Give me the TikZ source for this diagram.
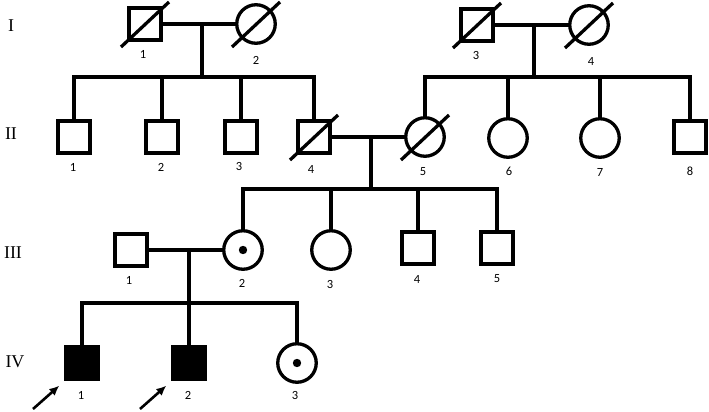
\documentclass[tikz,border=0pt]{standalone}
\usepackage{fontspec}
\setmainfont{Liberation Serif}
\newfontfamily\numfont{Carlito}
\usetikzlibrary{positioning,arrows.meta}

\begin{document}
\begin{tikzpicture}[x=1pt,y=1pt,line width=3.3pt,line cap=rect,
    person/.style={draw, line width=3.3pt, inner sep=0pt},
    male/.style={person, rectangle, minimum size=32pt},
    female/.style={person, circle, minimum size=38.5pt},
    affected/.style={fill=black},
    carrier/.style={path picture={\fill[black] (path picture bounding box.center) circle (4.2pt);}},
    gen/.style={font=\fontsize{18}{18}\selectfont, inner sep=0pt},
    num/.style={font=\numfont\fontsize{12.5}{12.5}\selectfont, inner sep=0pt},
    proband/.style={-{Latex[length=10pt,width=9pt]}, line width=2.6pt, line cap=butt}
]
\useasboundingbox (0,0) rectangle (709,-412);

% Generation labels
\node[gen] (gI) at (11,-26) {I};
\node[gen] (gII) at (11,-134) {II};
\node[gen] (gIII) at (13,-253) {III};
\node[gen] (gIV) at (15,-362) {IV};

% Generation I
\node[male] (I1) at (145,-24) {};
\node[female] (I2) at (256,-24) {};
\node[male] (I3) at (477,-25) {};
\node[female] (I4) at (589,-25) {};
\node[num] (nI1) at (143,-54) {1};
\node[num] (nI2) at (256,-60) {2};
\node[num] (nI3) at (476,-55) {3};
\node[num] (nI4) at (591,-61) {4};

% Generation II
\node[male] (II1) at (74,-137) {};
\node[male] (II2) at (162,-137) {};
\node[male] (II3) at (241,-137) {};
\node[male] (II4) at (314,-137) {};
\node[female] (II5) at (425,-137) {};
\node[female] (II6) at (508,-138) {};
\node[female] (II7) at (600,-138) {};
\node[male] (II8) at (690,-137) {};
\node[num] (nII1) at (73,-167) {1};
\node[num] (nII2) at (161,-167) {2};
\node[num] (nII3) at (239,-166) {3};
\node[num] (nII4) at (311,-169) {4};
\node[num] (nII5) at (423,-172) {5};
\node[num] (nII6) at (509,-171) {6};
\node[num] (nII7) at (600,-172) {7};
\node[num] (nII8) at (690,-171) {8};

% Generation III
\node[male] (III1) at (131,-250) {};
\node[female, carrier] (III2) at (243,-250) {};
\node[female] (III3) at (331,-250) {};
\node[male] (III4) at (418,-248) {};
\node[male] (III5) at (497,-248) {};
\node[num] (nIII1) at (129,-280) {1};
\node[num] (nIII2) at (242,-283) {2};
\node[num] (nIII3) at (330,-284) {3};
\node[num] (nIII4) at (417,-279) {4};
\node[num] (nIII5) at (497,-279) {5};

% Generation IV
\node[male, affected] (IV1) at (82,-363) {};
\node[male, affected] (IV2) at (189,-363) {};
\node[female, carrier] (IV3) at (297,-363) {};
\node[num] (nIV1) at (81,-395) {1};
\node[num] (nIV2) at (188,-395) {2};
\node[num] (nIV3) at (295,-395) {3};

% Deceased
\foreach \p in {I1,I2,I3,I4,II4,II5}
    \draw[line cap=butt] ([shift={(-24,-23)}]\p.center) -- ([shift={(24,22)}]\p.center);

% Marriages and descent
\coordinate (m1) at (202,-24);
\coordinate (s1) at (202,-77);
\coordinate (m2) at (534,-25);
\coordinate (s2) at (534,-77);
\coordinate (m3) at (371,-137);
\coordinate (s3) at (371,-189);
\coordinate (m4) at (189,-250);
\coordinate (s4) at (189,-303);

\draw (I1) -- (I2);
\draw (I3) -- (I4);
\draw (II4) -- (II5);
\draw (III1) -- (III2);
\draw (m1) -- (s1);
\draw (m2) -- (s2);
\draw (m3) -- (s3);
\draw (m4) -- (s4);

% Sibships
\draw (II1.north |- s1) -- (II4.north |- s1);
\foreach \c in {II1,II2,II3,II4}
    \draw (\c.north) -- (\c.north |- s1);
\draw (II5.north |- s2) -- (II8.north |- s2);
\foreach \c in {II5,II6,II7,II8}
    \draw (\c.north) -- (\c.north |- s2);
\draw (III2.north |- s3) -- (III5.north |- s3);
\foreach \c in {III2,III3,III4,III5}
    \draw (\c.north) -- (\c.north |- s3);
\draw (IV1.north |- s4) -- (IV3.north |- s4);
\foreach \c in {IV1,IV2,IV3}
    \draw (\c.north) -- (\c.north |- s4);

% Probands
\coordinate (a1) at (33,-409);
\coordinate (a2) at (140,-409);
\draw[proband] (a1) -- ([shift={(-5,-5)}]IV1.south west);
\draw[proband] (a2) -- ([shift={(-5,-5)}]IV2.south west);

\end{tikzpicture}
\end{document}
